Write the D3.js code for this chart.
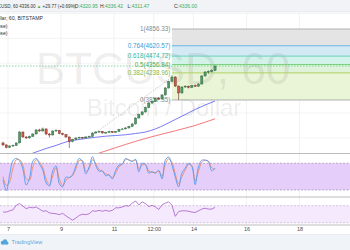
<!DOCTYPE html>
<html><head><meta charset="utf-8">
<script src="https://cdn.jsdelivr.net/npm/d3@7"></script>
<style>html,body{margin:0;padding:0;background:#fff;overflow:hidden}svg{display:block}text{font-family:Arial,"Liberation Sans",sans-serif}</style>
</head><body><svg id="c" width="350" height="250"></svg>
<script>
// ---------- data ----------
const symbol = "BTCUSD, 60";
const symbolName = "Bitcoin / Dollar";
const lastPriceText = "4336.00";
const changeText = "+29.77 (+0.69%)";
const ohlcLabels = ["O:", "H:", "L:", "C:"];
const ohlcValues = ["4320.95", "4336.42", "4311.47", "4336.00"];
const legendLines = ["Bitcoin / Dollar, 60, BITSTAMP", "MA (100, close)", "MA (200, close)"];

const startTime = "2017-09-06T18:00";
const stepHours = 3;
const firstOpen = 3253;
const closes = [3225,3189,3211,3218,3253,3407,3337,3323,3344,3379,
                3436,3421,3450,3379,3365,3421,3429,3386,3372,3337,
                3274,3302,3323,3330,3323,3337,3344,3393,3407,3414,
                3393,3400,3414,3400,3414,3443,3450,3464,3485,3520,
                3604,3653,3689,3752,3815,3836,3878,3871,3928,4026,
                4117,4181,4054,3956,4040,4052,4033,4061,4050,4082,
                4195,4251,4258,4272,4336];
const highs  = [3268,3236,3222,3230,3262,3420,3415,3348,3356,3390,
                3448,3452,3470,3458,3392,3430,3445,3436,3398,3380,
                3345,3312,3335,3342,3338,3348,3355,3402,3418,3425,
                3420,3410,3424,3420,3422,3452,3462,3476,3496,3532,
                3615,3668,3702,3765,3828,3850,3892,3895,3940,4040,
                4130,4205,4190,4060,4052,4065,4060,4072,4075,4095,
                4208,4265,4275,4290,4342];
const lows   = [3210,3176,3182,3200,3210,3248,3325,3310,3315,3338,
                3372,3410,3414,3362,3330,3358,3412,3374,3360,3325,
                3182,3262,3295,3315,3312,3318,3330,3338,3386,3398,
                3385,3386,3394,3392,3395,3408,3436,3444,3456,3478,
                3512,3596,3640,3680,3744,3805,3828,3858,3862,3920,
                4018,4110,4040,3857,3948,4030,4020,4025,4040,4045,
                4076,4188,4225,4248,4265];

const maBlueIdx = [8,10,13,16,19,22,25,28,31,34,37,40,43,46,49,52,55,58,61,64];
const maBlueVal = [3091,3126,3175,3218,3267,3295,3316,3333,3348,3358,3368,3386,3407,3450,3513,3583,3653,3724,3787,3843];
const maRedIdx = [28,31,34,37,40,43,46,49,52,55,58,61,64];
const maRedVal = [3095,3140,3187,3232,3275,3316,3354,3389,3424,3461,3499,3545,3593];

const stochK = [43,18,54,86,91,85,67,31,47,85,91,78,65,36,29,63,74,34,27,49,48,55,74,91,83,56,72,95,75,62,63,52,54,45,64,76,78,91,87,84,89,61,80,77,58,61,58,64,45,87,94,76,49,27,58,69,80,73,32,72,87,87,84,63,69];
const stochD = [50,30,38,70,88,88,76,45,42,72,88,83,70,45,32,52,70,45,30,42,48,52,68,86,86,62,68,88,80,66,62,56,54,48,58,72,78,88,88,85,87,68,76,77,63,60,59,62,50,78,90,82,56,34,50,65,77,75,40,62,82,87,85,70,67];
const rsi = [55,55,58,60,71,75,69,63,66,65,67,62,57,58,53,52,51,49,52,46,41,36,41,47,50,49,51,58,57,59,57,59,57,59,65,65,67,70,69,76,81,72,79,75,68,71,67,61,72,76,79,71,45,56,58,58,57,55,54,58,62,64,62,62,66];

const fibHigh = 4856.33, fibLow = 3857.35;
const fibRatios = [1, 0.764, 0.618, 0.5, 0.382, 0];
const fibLabels = ["1(4856.33)", "0.764(4620.57)", "0.618(4474.72)", "0.5(4356.84)", "0.382(4238.96)", "0(3857.35)"];
const fibStart = "2017-09-13T04:30";
const trendTimes = ["2017-09-10T02:00", "2017-09-13T04:30"];
const trendPrices = [3337, 4181];
const lastPrice = 4336.00;

const dateTicks = ["2017-09-07T00:00","2017-09-09T00:00","2017-09-11T00:00","2017-09-12T12:00","2017-09-14T00:00","2017-09-16T00:00","2017-09-18T00:00","2017-09-20T00:00"];
const dateLabels = ["7","9","11","12:00","14","16","18","20"];
const priceGrid = [5075,4725,4375,4025,3675,3325];
const stochLevels = [80, 20];
const rsiLevels = [70, 30];

// ---------- styles ----------
const W = 350, H = 250;
const fibLineColors = ["#a8a8a8","#5eaee0","#5ccfb8","#6fcf72","#a8cf55","#a8a8a8"];
const fibZoneColors = ["#e4e4e4","#d3e9f4","#d3f2e9","#dff2da","#eaf4d7"];
const fibTextColors = ["#8a8a8a","#3b9ad6","#36b99b","#4cae50","#8db83c","#8a8a8a"];
const green = "#3cae5c";

const parse = d3.utcParse("%Y-%m-%dT%H:%M");
const svg = d3.select("#c");

// small text helper: renders at 10px and scales down (avoids minimum font size)
function stext(parent, xx, yy, fs) {
  return parent.append("text").attr("transform", `translate(${xx},${yy}) scale(${fs / 10})`).style("font-size", "10px");
}

const x = d3.scaleUtc().domain([parse("2017-09-07T00:00"), parse("2017-09-15T00:00")]).range([8, 220]);
const y = d3.scaleLinear().domain([fibLow, fibHigh]).range([100, 29]);
const yS = d3.scaleLinear().domain([0, 100]).range([198.9, 154.4]);
const yR = d3.scaleLinear().domain([0, 100]).range([235.45, 192.95]);

const t0 = parse(startTime);
const hr = 3600e3;
const candles = closes.map((c, i) => ({
  t: new Date(t0.getTime() + (i * stepHours + stepHours / 2) * hr),
  o: i === 0 ? firstOpen : closes[i - 1], h: highs[i], l: lows[i], c
}));
const tAt = i => candles[i].t;

// backgrounds
svg.append("rect").attr("x",0).attr("y",0).attr("width",W).attr("height",H).attr("fill","#fff");
svg.append("rect").attr("x",0).attr("y",0).attr("width",W).attr("height",12).attr("fill","#f1f3f6");
svg.append("line").attr("x1",0).attr("x2",W).attr("y1",12).attr("y2",12).attr("stroke","#dfe2e8").attr("stroke-width",0.6);
svg.append("rect").attr("x",0).attr("y",234.5).attr("width",W).attr("height",16).attr("fill","#f0f3f7");
svg.append("line").attr("x1",0).attr("x2",W).attr("y1",234.5).attr("y2",234.5).attr("stroke","#dfe3ea").attr("stroke-width",0.6);

// clip paths
const defs = svg.append("defs");
defs.append("clipPath").attr("id","cm").append("rect").attr("x",0).attr("y",12.5).attr("width",W).attr("height",140.5);
defs.append("clipPath").attr("id","cs").append("rect").attr("x",0).attr("y",154).attr("width",W).attr("height",42.5);
defs.append("clipPath").attr("id","cr").append("rect").attr("x",0).attr("y",197.5).attr("width",W).attr("height",27);

// vertical grid
svg.append("g").selectAll("line").data(dateTicks).join("line")
  .attr("x1", d => x(parse(d))).attr("x2", d => x(parse(d)))
  .attr("y1", 12.5).attr("y2", 225).attr("stroke", "#ececec").attr("stroke-width", 0.7);
// horizontal grid (main)
svg.append("g").attr("clip-path","url(#cm)").selectAll("line").data(priceGrid).join("line")
  .attr("x1", 0).attr("x2", W).attr("y1", d => y(d)).attr("y2", d => y(d))
  .attr("stroke", "#efefef").attr("stroke-width", 0.7);

// main pane
const main = svg.append("g").attr("clip-path","url(#cm)");
const fx0 = x(parse(fibStart));
const fibPrices = fibRatios.map(r => fibLow + r * (fibHigh - fibLow));
main.append("g").selectAll("rect").data(fibZoneColors).join("rect")
  .attr("x", fx0).attr("width", W - fx0)
  .attr("y", (d, i) => y(fibPrices[i])).attr("height", (d, i) => y(fibPrices[i + 1]) - y(fibPrices[i]))
  .attr("fill", d => d);

// watermark
main.append("text").attr("x", 163).attr("y", 83.5).attr("text-anchor","middle")
  .style("font-size","44px").attr("fill","#000").attr("fill-opacity",0.085).text(symbol);
main.append("text").attr("x", 164).attr("y", 115.5).attr("text-anchor","middle")
  .style("font-size","24px").attr("fill","#000").attr("fill-opacity",0.085).text(symbolName);

main.append("g").selectAll("line").data(fibPrices).join("line")
  .attr("x1", fx0).attr("x2", W).attr("y1", d => y(d)).attr("y2", d => y(d))
  .attr("stroke", (d, i) => fibLineColors[i]).attr("stroke-width", 0.9);
const fl = main.append("g");
fibLabels.forEach((s, i) => {
  stext(fl, fx0 - 1.5, y(fibPrices[i]) + 2.2, 6.3).attr("text-anchor", "end")
    .attr("fill", fibTextColors[i]).text(s);
});

// last price line
main.append("line").attr("x1",0).attr("x2",W).attr("y1",y(lastPrice)).attr("y2",y(lastPrice))
  .attr("stroke","#5cc08a").attr("stroke-width",0.7).attr("stroke-dasharray","1.5,1.5");

// trend line (fib anchor)
main.append("line")
  .attr("x1", x(parse(trendTimes[0]))).attr("y1", y(trendPrices[0]))
  .attr("x2", x(parse(trendTimes[1]))).attr("y2", y(trendPrices[1]))
  .attr("stroke","#9a9a9a").attr("stroke-width",0.6).attr("stroke-dasharray","1.2,1.5");

// moving averages
const maLine = d3.line().curve(d3.curveMonotoneX);
main.append("path").attr("d", maLine(maBlueIdx.map((k, j) => [x(tAt(k)), y(maBlueVal[j])])))
  .attr("fill","none").attr("stroke","#6a6af2").attr("stroke-width",0.9);
main.append("path").attr("d", maLine(maRedIdx.map((k, j) => [x(tAt(k)), y(maRedVal[j])])))
  .attr("fill","none").attr("stroke","#f26a6a").attr("stroke-width",0.9);

// candles
const cg = main.append("g");
const bw = 2.2;
cg.selectAll("line").data(candles).join("line")
  .attr("x1", d => x(d.t)).attr("x2", d => x(d.t))
  .attr("y1", d => y(d.h)).attr("y2", d => y(d.l))
  .attr("stroke", d => d.c >= d.o ? "#2f5e3c" : "#6b2a20").attr("stroke-width", 0.6);
cg.selectAll("rect").data(candles).join("rect")
  .attr("x", d => x(d.t) - bw / 2).attr("width", bw)
  .attr("y", d => y(Math.max(d.o, d.c))).attr("height", d => Math.max(0.6, Math.abs(y(d.o) - y(d.c))))
  .attr("fill", d => d.c >= d.o ? "#4f9a64" : "#cc5a44")
  .attr("stroke", d => d.c >= d.o ? "#2f5e3c" : "#6b2a20").attr("stroke-width", 0.4);

// legend
const leg = svg.append("g").attr("fill","#333");
stext(leg, 43, 20.3, 5.2).attr("text-anchor","end").attr("fill","#333").text(legendLines[0]);
stext(leg, 7.5, 27.6, 5.2).attr("text-anchor","end").attr("fill","#333").text(legendLines[1]);
stext(leg, 7.5, 35.2, 5.2).attr("text-anchor","end").attr("fill","#333").text(legendLines[2]);

// stochastic pane
const sp = svg.append("g").attr("clip-path","url(#cs)");
sp.append("rect").attr("x",0).attr("width",W).attr("y",yS(stochLevels[0])).attr("height",yS(stochLevels[1]) - yS(stochLevels[0])).attr("fill","#e6cefb");
sp.selectAll("line.lv").data(stochLevels).join("line").attr("class","lv")
  .attr("x1",0).attr("x2",W).attr("y1",d=>yS(d)).attr("y2",d=>yS(d))
  .attr("stroke","#a58db5").attr("stroke-width",0.7).attr("stroke-dasharray","2,1.5");
const oscLine = sc => d3.line().x((d,i)=>x(tAt(i))).y(d=>sc(d)).curve(d3.curveCatmullRom.alpha(0.5));
sp.append("path").attr("d", oscLine(yS)(stochD)).attr("fill","none").attr("stroke","#f08a5e").attr("stroke-width",0.9);
sp.append("path").attr("d", oscLine(yS)(stochK)).attr("fill","none").attr("stroke","#4f9cf2").attr("stroke-width",0.9);

// rsi pane
const rp = svg.append("g").attr("clip-path","url(#cr)");
rp.append("rect").attr("x",0).attr("width",W).attr("y",yR(rsiLevels[0])).attr("height",yR(rsiLevels[1]) - yR(rsiLevels[0])).attr("fill","#f5e9fd");
rp.selectAll("line.lv").data(rsiLevels).join("line").attr("class","lv")
  .attr("x1",0).attr("x2",W).attr("y1",d=>yR(d)).attr("y2",d=>yR(d))
  .attr("stroke","#c4b0d2").attr("stroke-width",0.7).attr("stroke-dasharray","2,1.5");
rp.append("path").attr("d", d3.line().x((d,i)=>x(tAt(i))).y(d=>yR(d))(rsi)).attr("fill","none").attr("stroke","#a45cc6").attr("stroke-width",0.8);

// separators
svg.append("g").selectAll("line").data([153.5, 197, 225]).join("line")
  .attr("x1",0).attr("x2",W).attr("y1",d=>d).attr("y2",d=>d).attr("stroke","#b4b4b4").attr("stroke-width",0.9);

// time axis
const axis = d3.axisBottom(x).tickValues(dateTicks.map(parse)).tickFormat((d,i)=>dateLabels[i]).tickSize(0).tickPadding(0);
const ag = svg.append("g").attr("transform","translate(0,225)").call(axis);
ag.select(".domain").remove();
ag.selectAll("text").attr("fill","#4a4a4a").attr("y",0).attr("dy",null)
  .attr("transform","translate(0,6.4) scale(0.55)").style("font-size","10px")
  .style("font-family","Arial, 'Liberation Sans', sans-serif");

// header
const hg = svg.append("g");
const h1 = stext(hg, 18, 7.6, 4.5).attr("fill","#333");
h1.append("tspan").attr("text-anchor","end").text(symbol);
const h2 = stext(hg, 19.3, 7.6, 4.5).attr("fill","#333");
h2.append("tspan").text(lastPriceText + " ");
h2.append("tspan").attr("fill", green).text("▲");
h2.append("tspan").text(" " + changeText);
const ohlcX = [74.5, 100, 127.5, 174];
ohlcLabels.forEach((lb, i) => {
  const t = stext(hg, ohlcX[i], 7.6, 5).attr("fill","#333");
  t.append("tspan").text(lb);
  t.append("tspan").attr("fill", green).text(ohlcValues[i]);
});

// TradingView logo
const lg = svg.append("g").attr("fill","#52a6dc");
lg.append("circle").attr("cx",2.6).attr("cy",242.6).attr("r",1.8);
lg.append("circle").attr("cx",5.0).attr("cy",241.4).attr("r",2.2);
lg.append("circle").attr("cx",7.0).attr("cy",243.0).attr("r",1.5);
lg.append("rect").attr("x",1).attr("y",242.8).attr("width",6.5).attr("height",1.7).attr("rx",0.8);
stext(svg, 11.5, 244.3, 5.6).attr("fill","#5aa8de").text("TradingView");
</script></body></html>
